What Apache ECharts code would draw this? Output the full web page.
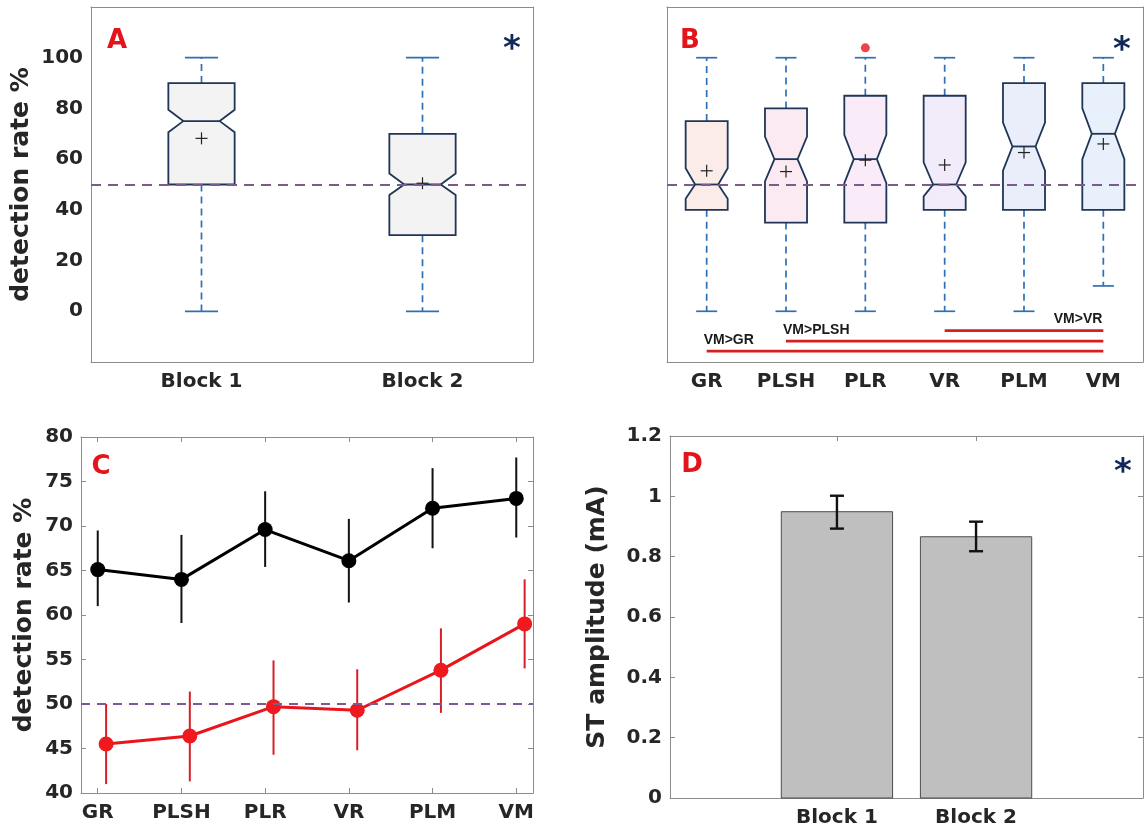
<!DOCTYPE html>
<html><head><meta charset="utf-8">
<script src="https://cdn.jsdelivr.net/npm/echarts@6/dist/echarts.min.js"></script>
<style>html,body{margin:0;padding:0;background:#fff}#main{width:1144px;height:834px}</style>
</head><body><div id="main"></div>
<script>
// ---------- Panel A : notched boxplots, Block 1 / Block 2 ----------
const blockCats = ['Block 1', 'Block 2'];
const aMin     = [0, 0];
const aQ1      = [50, 30];
const aNotchLo = [70.6, 45.9];
const aMedian  = [75, 50];
const aNotchHi = [79.5, 54.3];
const aQ3      = [90, 70];
const aMax     = [100, 100];
const aMean    = [68.2, 50.5];
const pctTicks = [0, 20, 40, 60, 80, 100];
const chanceLevel = 50;

// ---------- Panel B : notched boxplots per condition ----------
const condCats = ['GR', 'PLSH', 'PLR', 'VR', 'PLM', 'VM'];
const bMin     = [0, 0, 0, 0, 0, 10];
const bQ1      = [40, 35, 35, 40, 40, 40];
const bNotchLo = [44.4, 51.2, 50.5, 45.3, 55.5, 60];
const bMedian  = [50, 60, 60, 50, 65, 70];
const bNotchHi = [56.4, 68.9, 69.6, 58.7, 74.4, 80];
const bQ3      = [75, 80, 85, 85, 90, 90];
const bMax     = [100, 100, 100, 100, 100, 100];
const bMean    = [55.4, 55.1, 59.6, 57.7, 62.6, 66];
const bOutlierCat = [2];
const bOutlierVal = [103.9];
const sigLabels = ['VM>GR', 'VM>PLSH', 'VM>VR'];
const sigFrom   = [0, 1, 3];
const sigTo     = [5, 5, 5];
const sigLevel  = [-15.7, -11.8, -7.6];

// ---------- Panel C : mean ± error per condition ----------
const cX       = [1, 2, 3, 4, 5, 6];
const cXRed    = [1.1, 2.1, 3.1, 4.1, 5.1, 6.1];
const blackMean = [65.1, 64.0, 69.6, 66.1, 72.0, 73.1];
const blackLo   = [61.0, 59.1, 65.4, 61.4, 67.5, 68.7];
const blackHi   = [69.5, 69.0, 73.9, 70.8, 76.5, 77.7];
const redMean   = [45.5, 46.4, 49.7, 49.3, 53.8, 59.0];
const redLo     = [41.0, 41.3, 44.3, 44.8, 49.0, 54.0];
const redHi     = [50.0, 51.4, 54.9, 53.9, 58.5, 64.0];

// ---------- Panel D : ST amplitude bars ----------
const dX    = [1, 2];
const dMean = [0.949, 0.866];
const dLo   = [0.893, 0.818];
const dHi   = [1.002, 0.916];

// ---------- styling ----------
const FONT = 'DejaVu Sans';
const AX = '#8c8c8c';
const TXT = '#262626';
const bFills = ['#fcece9', '#fbeaf1', '#f9ebf8', '#f2ebfa', '#eaedfa', '#e8f1fb'];
const aFills = ['#f3f3f3', '#f3f3f3'];
const sigAnchor = ['left', 'left', 'right'];

const tickStyle = {inside: true, length: 5, lineStyle: {color: AX, width: 1}};
const lineStyleAx = {show: true, onZero: false, lineStyle: {color: AX, width: 1}};
const labelStyle = {fontFamily: FONT, fontWeight: 'bold', fontSize: 20, color: TXT};
const nameStyle = {fontFamily: FONT, fontWeight: 'bold', fontSize: 25, color: TXT};

function notchedBox(frac, fills) {
  return function (params, api) {
    const i = api.value(0);
    const mn = api.value(1), q1 = api.value(2), nlo = api.value(3), med = api.value(4),
          nhi = api.value(5), q3 = api.value(6), mx = api.value(7), mean = api.value(8);
    const c = api.coord([i, med])[0];
    const y = v => api.coord([i, v])[1];
    const band = api.size([1, 0])[0];
    const h = band * frac / 2, n = h * 0.55, cap = h / 2;
    const wStyle = {stroke: '#2e70b5', lineWidth: 1.7, lineDash: [7, 5]};
    const cStyle = {stroke: '#2e70b5', lineWidth: 1.7};
    const edge = '#1f3656';
    const pts = [[c - h, y(q3)], [c + h, y(q3)], [c + h, y(nhi)], [c + n, y(med)], [c + h, y(nlo)],
                 [c + h, y(q1)], [c - h, y(q1)], [c - h, y(nlo)], [c - n, y(med)], [c - h, y(nhi)]];
    const my = y(mean);
    return {type: 'group', children: [
      {type: 'line', shape: {x1: c, y1: y(q3), x2: c, y2: y(mx)}, style: wStyle},
      {type: 'line', shape: {x1: c, y1: y(q1), x2: c, y2: y(mn)}, style: wStyle},
      {type: 'line', shape: {x1: c - cap, y1: y(mx), x2: c + cap, y2: y(mx)}, style: cStyle},
      {type: 'line', shape: {x1: c - cap, y1: y(mn), x2: c + cap, y2: y(mn)}, style: cStyle},
      {type: 'polygon', shape: {points: pts}, style: {fill: fills[i % fills.length], stroke: edge, lineWidth: 1.8}},
      {type: 'line', shape: {x1: c - n, y1: y(med), x2: c + n, y2: y(med)}, style: {stroke: edge, lineWidth: 1.8}},
      {type: 'line', shape: {x1: c - 6, y1: my, x2: c + 6, y2: my}, style: {stroke: '#222', lineWidth: 1.2}},
      {type: 'line', shape: {x1: c, y1: my - 6, x2: c, y2: my + 6}, style: {stroke: '#222', lineWidth: 1.2}}
    ]};
  };
}

function errBar(color, width, capHalf) {
  return function (params, api) {
    const x = api.value(0);
    const lo = api.coord([x, api.value(1)]);
    const hi = api.coord([x, api.value(2)]);
    const st = {stroke: color, lineWidth: width};
    const ch = [{type: 'line', shape: {x1: lo[0], y1: lo[1], x2: hi[0], y2: hi[1]}, style: st}];
    if (capHalf) {
      ch.push({type: 'line', shape: {x1: lo[0] - capHalf, y1: lo[1], x2: lo[0] + capHalf, y2: lo[1]}, style: st});
      ch.push({type: 'line', shape: {x1: hi[0] - capHalf, y1: hi[1], x2: hi[0] + capHalf, y2: hi[1]}, style: st});
    }
    return {type: 'group', children: ch};
  };
}

const refLine = (color, width, dash) => ({
  silent: true, symbol: 'none', label: {show: false},
  lineStyle: {color: color, width: width, type: dash},
  emphasis: {disabled: true},
  data: [{yAxis: chanceLevel}]
});

function catAxis(grid, data, pos, withLabels) {
  return {
    type: 'category', gridIndex: grid, data: data, position: pos, boundaryGap: true,
    axisLine: lineStyleAx, axisTick: Object.assign({alignWithLabel: true}, tickStyle),
    axisLabel: Object.assign({show: withLabels, margin: 10}, labelStyle),
    splitLine: {show: false}
  };
}
function valAxisX(grid, min, max, ticks, cats, pos, withLabels) {
  return {
    type: 'value', gridIndex: grid, min: min, max: max, position: pos,
    axisLine: lineStyleAx,
    axisTick: Object.assign({customValues: ticks}, tickStyle),
    axisLabel: Object.assign({show: withLabels, margin: 10, customValues: ticks,
      formatter: v => cats[Math.round(v) - 1]}, labelStyle),
    splitLine: {show: false}
  };
}
function valAxisY(grid, min, max, interval, ticks, pos, withLabels, name, gap) {
  const ax = {
    type: 'value', gridIndex: grid, min: min, max: max, interval: interval, position: pos,
    axisLine: lineStyleAx,
    axisTick: Object.assign({}, tickStyle),
    axisLabel: Object.assign({show: withLabels, margin: 8}, labelStyle),
    splitLine: {show: false}
  };
  if (ticks) { ax.axisTick.customValues = ticks; ax.axisLabel.customValues = ticks; }
  if (name) {
    ax.name = name; ax.nameLocation = 'middle'; ax.nameGap = gap; ax.nameTextStyle = nameStyle;
  }
  return ax;
}

const option = {
  animation: false,
  backgroundColor: '#ffffff',
  grid: [
    {left: 91, top: 7, width: 442, height: 355},
    {left: 667, top: 7, width: 476, height: 355},
    {left: 81, top: 437, width: 452, height: 356},
    {left: 670, top: 436, width: 473, height: 362}
  ],
  xAxis: [
    catAxis(0, blockCats, 'bottom', true),
    catAxis(0, blockCats, 'top', false),
    catAxis(1, condCats, 'bottom', true),
    catAxis(1, condCats, 'top', false),
    valAxisX(2, 0.8, 6.2, cX, condCats, 'bottom', true),
    valAxisX(2, 0.8, 6.2, cX, condCats, 'top', false),
    valAxisX(3, -0.2, 3.2, dX, blockCats, 'bottom', true),
    valAxisX(3, -0.2, 3.2, dX, blockCats, 'top', false)
  ],
  yAxis: [
    valAxisY(0, -20, 120, 20, pctTicks, 'left', true, 'detection rate %', 57),
    valAxisY(0, -20, 120, 20, pctTicks, 'right', false),
    valAxisY(1, -20, 120, 20, pctTicks, 'left', false),
    valAxisY(1, -20, 120, 20, pctTicks, 'right', false),
    valAxisY(2, 40, 80, 5, null, 'left', true, 'detection rate %', 44),
    valAxisY(2, 40, 80, 5, null, 'right', false),
    valAxisY(3, 0, 1.2, 0.2, null, 'left', true, 'ST amplitude (mA)', 60),
    valAxisY(3, 0, 1.2, 0.2, null, 'right', false)
  ],
  series: [
    // Panel A
    {
      type: 'custom', xAxisIndex: 0, yAxisIndex: 0, z: 2,
      renderItem: notchedBox(0.30, aFills),
      encode: {x: 0, y: [1, 2, 3, 4, 5, 6, 7, 8]},
      data: blockCats.map((_, i) => [i, aMin[i], aQ1[i], aNotchLo[i], aMedian[i], aNotchHi[i], aQ3[i], aMax[i], aMean[i]]),
      markLine: refLine('#7d5a8c', 2.2, [10, 7])
    },
    // Panel B
    {
      type: 'custom', xAxisIndex: 2, yAxisIndex: 2, z: 2,
      renderItem: notchedBox(0.53, bFills),
      encode: {x: 0, y: [1, 2, 3, 4, 5, 6, 7, 8]},
      data: condCats.map((_, i) => [i, bMin[i], bQ1[i], bNotchLo[i], bMedian[i], bNotchHi[i], bQ3[i], bMax[i], bMean[i]]),
      markLine: refLine('#7d5a8c', 2.2, [10, 7])
    },
    {
      type: 'scatter', xAxisIndex: 2, yAxisIndex: 2, z: 6,
      symbol: 'circle', symbolSize: 9, itemStyle: {color: '#e8141b'},
      data: bOutlierCat.map((c, i) => [c, bOutlierVal[i]])
    },
    {
      type: 'custom', xAxisIndex: 2, yAxisIndex: 2, z: 6,
      encode: {x: [0, 1], y: 2},
      renderItem: function (params, api) {
        const idx = api.value(3);
        const p1 = api.coord([api.value(0), api.value(2)]);
        const p2 = api.coord([api.value(1), api.value(2)]);
        const anchor = sigAnchor[idx];
        return {type: 'group', children: [
          {type: 'line', shape: {x1: p1[0], y1: p1[1], x2: p2[0], y2: p2[1]},
           style: {stroke: '#d42020', lineWidth: 2.8}},
          {type: 'text', x: anchor === 'left' ? p1[0] - 3 : p2[0] - 1, y: p1[1] - 4,
           style: {text: sigLabels[idx], font: 'bold 14px "Liberation Sans"', fill: '#1a1a1a',
                   align: anchor, verticalAlign: 'bottom'}}
        ]};
      },
      data: sigLabels.map((_, i) => [sigFrom[i], sigTo[i], sigLevel[i], i])
    },
    // Panel C
    {
      type: 'custom', xAxisIndex: 4, yAxisIndex: 4, z: 3,
      renderItem: errBar('#111', 2, 0),
      encode: {x: 0, y: [1, 2]},
      data: cX.map((x, i) => [x, blackLo[i], blackHi[i]])
    },
    {
      type: 'custom', xAxisIndex: 4, yAxisIndex: 4, z: 3,
      renderItem: errBar('#d81e28', 2, 0),
      encode: {x: 0, y: [1, 2]},
      data: cXRed.map((x, i) => [x, redLo[i], redHi[i]])
    },
    {
      type: 'line', xAxisIndex: 4, yAxisIndex: 4, z: 4,
      symbol: 'circle', symbolSize: 15,
      itemStyle: {color: '#000'}, lineStyle: {color: '#000', width: 3},
      data: cX.map((x, i) => [x, blackMean[i]]),
      markLine: refLine('#7a5c92', 1.8, [9, 7])
    },
    {
      type: 'line', xAxisIndex: 4, yAxisIndex: 4, z: 4,
      symbol: 'circle', symbolSize: 15,
      itemStyle: {color: '#f01a1e'}, lineStyle: {color: '#e8161c', width: 3},
      data: cXRed.map((x, i) => [x, redMean[i]])
    },
    // Panel D
    {
      type: 'custom', xAxisIndex: 6, yAxisIndex: 6, z: 2,
      encode: {x: 0, y: 1},
      renderItem: function (params, api) {
        const x = api.value(0), v = api.value(1);
        const tl = api.coord([x - 0.4, v]);
        const br = api.coord([x + 0.4, 0]);
        return {type: 'rect', shape: {x: tl[0], y: tl[1], width: br[0] - tl[0], height: br[1] - tl[1]},
                style: {fill: '#bfbfbf', stroke: '#4d4d4d', lineWidth: 1}};
      },
      data: dX.map((x, i) => [x, dMean[i]])
    },
    {
      type: 'custom', xAxisIndex: 6, yAxisIndex: 6, z: 3,
      renderItem: errBar('#111', 2.4, 7),
      encode: {x: 0, y: [1, 2]},
      data: dX.map((x, i) => [x, dLo[i], dHi[i]])
    }
  ],
  graphic: [
    {type: 'text', x: 117, y: 41, style: {text: 'A', font: 'bold 26px "DejaVu Sans"', fill: '#e3141b', align: 'center', verticalAlign: 'middle'}},
    {type: 'text', x: 690, y: 41, style: {text: 'B', font: 'bold 26px "DejaVu Sans"', fill: '#e3141b', align: 'center', verticalAlign: 'middle'}},
    {type: 'text', x: 101, y: 467, style: {text: 'C', font: 'bold 26px "DejaVu Sans"', fill: '#e3141b', align: 'center', verticalAlign: 'middle'}},
    {type: 'text', x: 692, y: 465, style: {text: 'D', font: 'bold 26px "DejaVu Sans"', fill: '#e3141b', align: 'center', verticalAlign: 'middle'}},
    {type: 'text', x: 512, y: 50, style: {text: '*', font: 'bold 34px "DejaVu Sans"', fill: '#13285a', align: 'center', verticalAlign: 'middle'}},
    {type: 'text', x: 1122, y: 51, style: {text: '*', font: 'bold 34px "DejaVu Sans"', fill: '#13285a', align: 'center', verticalAlign: 'middle'}},
    {type: 'text', x: 1123, y: 473, style: {text: '*', font: 'bold 34px "DejaVu Sans"', fill: '#13285a', align: 'center', verticalAlign: 'middle'}}
  ]
};

const chart = echarts.init(document.getElementById('main'));
chart.setOption(option);
</script>
</body></html>
